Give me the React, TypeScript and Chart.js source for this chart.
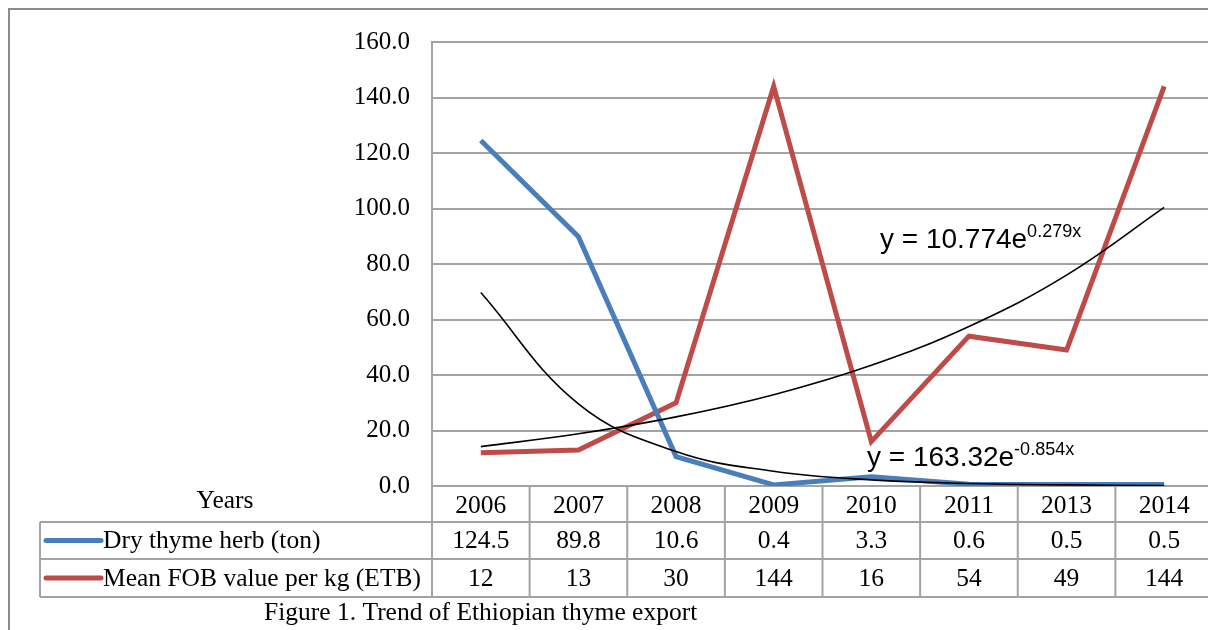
import { useEffect, useRef } from 'react';
import { Chart, registerables } from 'chart.js';

Chart.register(...registerables);

const years = ['2006', '2007', '2008', '2009', '2010', '2011', '2013', '2014'];
const dryThyme = [124.5, 89.8, 10.6, 0.4, 3.3, 0.6, 0.5, 0.5];
const meanFob = [12, 13, 30, 144, 16, 54, 49, 144];
// trendline values at each year
const fobTrend = [14.2, 18.8, 24.9, 32.9, 43.5, 57.5, 76.0, 100.4];
const thymeTrend = [69.7, 29.6, 12.4, 5.3, 2.2, 0.9, 0.4, 0.2];
const dryThymeText = ['124.5', '89.8', '10.6', '0.4', '3.3', '0.6', '0.5', '0.5'];
const meanFobText = ['12', '13', '30', '144', '16', '54', '49', '144'];

const BLUE = '#4a7ebb';
const RED = '#be4b48';
const GRID = '#a3a3a3';
const SERIF = "'Liberation Serif', 'Times New Roman', serif";
const SANS = "'Liberation Sans', Arial, sans-serif";

const tablePlugin = {
  id: 'dataTable',
  afterDraw(chart: Chart) {
    const ctx = chart.ctx;
    const x = chart.scales.x;
    const area = chart.chartArea;
    const step = x.getPixelForValue(1) - x.getPixelForValue(0);
    const rowTop = area.bottom;
    const rows = [rowTop, rowTop + 36, rowTop + 73, rowTop + 111];
    const tableLeft = 40;

    ctx.save();
    ctx.strokeStyle = GRID;
    ctx.lineWidth = 2;
    // horizontal lines
    rows.slice(1).forEach((y) => {
      ctx.beginPath();
      ctx.moveTo(tableLeft, y);
      ctx.lineTo(area.right, y);
      ctx.stroke();
    });
    // vertical lines
    for (let i = 0; i <= years.length; i++) {
      const px = x.getPixelForValue(0) - step / 2 + i * step;
      ctx.beginPath();
      ctx.moveTo(px, rows[0]);
      ctx.lineTo(px, rows[3]);
      ctx.stroke();
    }
    ctx.beginPath();
    ctx.moveTo(tableLeft, rows[1]);
    ctx.lineTo(tableLeft, rows[3]);
    ctx.stroke();

    // outer frame
    ctx.strokeStyle = '#8c8c8c';
    ctx.beginPath();
    ctx.moveTo(9, 640);
    ctx.lineTo(9, 9);
    ctx.lineTo(1230, 9);
    ctx.stroke();

    // cell text
    ctx.fillStyle = '#000';
    ctx.font = `25.5px ${SERIF}`;
    ctx.textAlign = 'center';
    ctx.textBaseline = 'middle';
    years.forEach((yr, i) => {
      const cx = x.getPixelForValue(i);
      ctx.fillText(yr, cx, (rows[0] + rows[1]) / 2 + 2);
      ctx.fillText(dryThymeText[i], cx, (rows[1] + rows[2]) / 2 + 1);
      ctx.fillText(meanFobText[i], cx, (rows[2] + rows[3]) / 2 + 1);
    });
    ctx.fillText('Years', 225, (rows[0] + rows[1]) / 2 - 3);

    // legend keys
    const keys = [
      { color: BLUE, label: 'Dry thyme herb (ton)', y: (rows[1] + rows[2]) / 2 },
      { color: RED, label: 'Mean FOB value per kg (ETB)', y: (rows[2] + rows[3]) / 2 },
    ];
    keys.forEach((k) => {
      ctx.strokeStyle = k.color;
      ctx.lineWidth = 5;
      ctx.lineCap = 'round';
      ctx.beginPath();
      ctx.moveTo(46, k.y);
      ctx.lineTo(101, k.y);
      ctx.stroke();
      ctx.textAlign = 'left';
      ctx.fillText(k.label, 103, k.y + 1);
    });

    // caption
    ctx.textAlign = 'left';
    ctx.fillText('Figure 1. Trend of Ethiopian thyme export', 264, 613);

    // trendline equations
    const equation = (base: string, sup: string, left: number, baseline: number) => {
      ctx.textAlign = 'left';
      ctx.textBaseline = 'alphabetic';
      ctx.font = `28px ${SANS}`;
      ctx.fillText(base, left, baseline);
      const w = ctx.measureText(base).width;
      ctx.font = `18px ${SANS}`;
      ctx.fillText(sup, left + w, baseline - 11);
    };
    equation('y = 10.774e', '0.279x', 880, 248);
    equation('y = 163.32e', '-0.854x', 867, 466);
    ctx.restore();
  },
};

export default function App() {
  const canvasRef = useRef<HTMLCanvasElement>(null);
  const chartRef = useRef<Chart | null>(null);

  useEffect(() => {
    if (!canvasRef.current) return;
    if (chartRef.current) chartRef.current.destroy();

    chartRef.current = new Chart(canvasRef.current, {
      type: 'line',
      data: {
        labels: years,
        datasets: [
          {
            label: 'Exponential (Dry thyme herb)',
            data: thymeTrend,
            borderColor: '#000',
            borderWidth: 1.6,
            pointRadius: 0,
            tension: 0.4,
          },
          {
            label: 'Exponential (Mean FOB)',
            data: fobTrend,
            borderColor: '#000',
            borderWidth: 1.6,
            pointRadius: 0,
            tension: 0.4,
          },
          {
            label: 'Dry thyme herb (ton)',
            data: dryThyme,
            borderColor: BLUE,
            borderWidth: 5,
            pointRadius: 0,
            tension: 0,
          },
          {
            label: 'Mean FOB value per kg (ETB)',
            data: meanFob,
            borderColor: RED,
            borderWidth: 5,
            pointRadius: 0,
            tension: 0,
          },
        ],
      },
      options: {
        responsive: false,
        animation: false,
        layout: { padding: { left: 0, top: 42, right: 9, bottom: 144 } },
        plugins: { legend: { display: false }, tooltip: { enabled: false } },
        scales: {
          x: { display: false, offset: true },
          y: {
            min: 0,
            max: 160,
            afterFit: (scale: any) => {
              scale.width = 432;
            },
            ticks: {
              stepSize: 20,
              padding: 22,
              color: '#000',
              font: { family: SERIF, size: 25 },
              callback: (v: any) => Number(v).toFixed(1),
            },
            grid: { color: GRID, lineWidth: 2, drawTicks: false },
            border: { display: true, color: GRID, width: 2 },
          },
        },
      },
      plugins: [tablePlugin],
    });

    return () => {
      if (chartRef.current) {
        chartRef.current.destroy();
        chartRef.current = null;
      }
    };
  }, []);

  return (
    <div style={{ position: 'absolute', left: 0, top: 0, width: 1208, height: 630, overflow: 'hidden', background: '#fff' }}>
      <canvas ref={canvasRef} width={1222} height={630} style={{ display: 'block' }} />
    </div>
  );
}
